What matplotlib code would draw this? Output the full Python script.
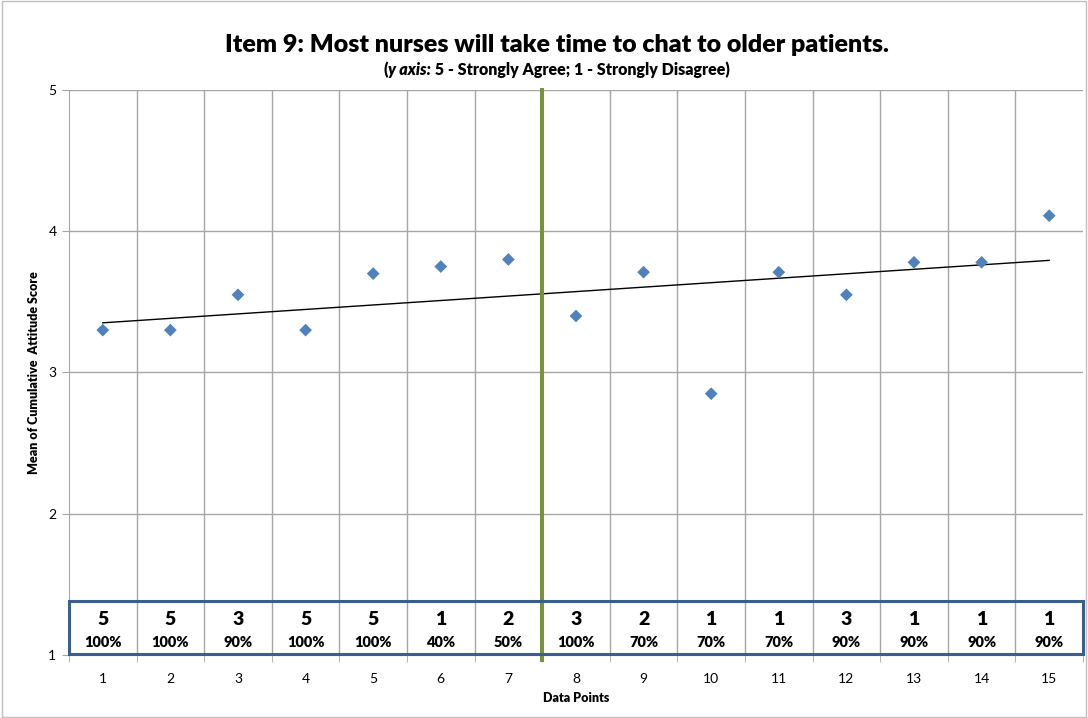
import numpy as np
import matplotlib.pyplot as plt
from matplotlib.patches import Rectangle

plt.rcParams['font.family'] = ['Lato', 'DejaVu Sans']

# mean cumulative attitude score per data point
points = np.arange(1, 16)
mean_score = [3.30, 3.30, 3.55, 3.30, 3.70, 3.75, 3.80,
              3.40, 3.71, 2.85, 3.71, 3.55, 3.78, 3.78, 4.11]

# responses counted at each data point and the response rate
n_responses = [5, 5, 3, 5, 5, 1, 2, 3, 2, 1, 1, 3, 1, 1, 1]
response_rate = [100, 100, 90, 100, 100, 40, 50, 100, 70, 70, 70, 90, 90, 90, 90]

# intervention happens between data points 7 and 8
split_after = 7

fig = plt.figure(figsize=(10.88, 7.18), dpi=100)
ax = fig.add_axes([0.0634, 0.0877, 0.932, 0.787])

grid_col = '#A6A6A6'
ax.set_xlim(0.5, 15.5)
ax.set_ylim(1, 5)

# category style grid: vertical lines between points
for b in np.arange(1.5, 15.5, 1):
    ax.axvline(b, color=grid_col, lw=1.0, zorder=1)
for yv in [2, 3, 4, 5]:
    ax.axhline(yv, color=grid_col, lw=1.0, zorder=1)

ax.set_yticks([1, 2, 3, 4, 5])
ax.set_xticks(points)
ax.set_xticks(np.arange(0.5, 16.5, 1), minor=True)
ax.tick_params(axis='x', which='major', length=0, pad=13, labelsize=10)
ax.tick_params(axis='x', which='minor', length=5, color=grid_col, direction='out')
ax.tick_params(axis='y', length=5, color=grid_col, labelsize=10, pad=4)
for s in ['top', 'right']:
    ax.spines[s].set_visible(False)
for s in ['left', 'bottom']:
    ax.spines[s].set_color(grid_col)

ax.scatter(points, mean_score, marker='D', s=42, color='#4F81BD',
           edgecolor='none', zorder=4)

# linear trend line
slope, icpt = np.polyfit(points, mean_score, 1)
ax.plot([points[0], points[-1]],
        [icpt + slope * points[0], icpt + slope * points[-1]],
        color='black', lw=1.0, zorder=3)

ax.plot([split_after + 0.5, split_after + 0.5], [0.965, 5],
        color='#77933C', lw=2.9, zorder=5, clip_on=False)

# box with response counts along the bottom
ax.add_patch(Rectangle((0.5, 1.01), 15, 0.375, fill=False,
                       edgecolor='#3A5F8F', lw=2.2, zorder=6, clip_on=False))
for x, n, r in zip(points, n_responses, response_rate):
    ax.text(x, 1.25, str(n), ha='center', va='center', fontsize=14,
            fontweight='heavy', zorder=7)
    ax.text(x, 1.09, f'{r}%', ha='center', va='center', fontsize=10.5,
            fontweight='heavy', zorder=7)

ax.set_xlabel('Data Points', fontsize=9, fontweight='heavy', labelpad=5)
ax.set_ylabel('Mean of Cumulative  Attitude Score', fontsize=9,
              fontweight='heavy', labelpad=6)

fig.text(0.512, 0.937, 'Item 9: Most nurses will take time to chat to older patients.',
         ha='center', va='center', fontsize=18, fontweight='heavy')

# subtitle: italic "y axis:" followed by the scale description
sub_y = 0.903
parts = [('(', 'normal'), ('y axis:', 'italic'),
         (' 5 - Strongly Agree; 1 - Strongly Disagree)', 'normal')]
texts = []
for s, st in parts:
    t = fig.text(0.0, sub_y, s, ha='left', va='center', fontsize=11.5,
                 fontweight='heavy', style=st)
    texts.append(t)
fig.canvas.draw()
r = fig.canvas.get_renderer()
widths = [t.get_window_extent(r).width / fig.bbox.width for t in texts]
xpos = 0.512 - sum(widths) / 2
for t, w in zip(texts, widths):
    t.set_x(xpos)
    xpos += w

fig.patches.append(Rectangle((0.002, 0.002), 0.996, 0.996, transform=fig.transFigure,
                             fill=False, edgecolor='#BFBFBF', lw=1.0))

fig.savefig('out.png', dpi=100)
